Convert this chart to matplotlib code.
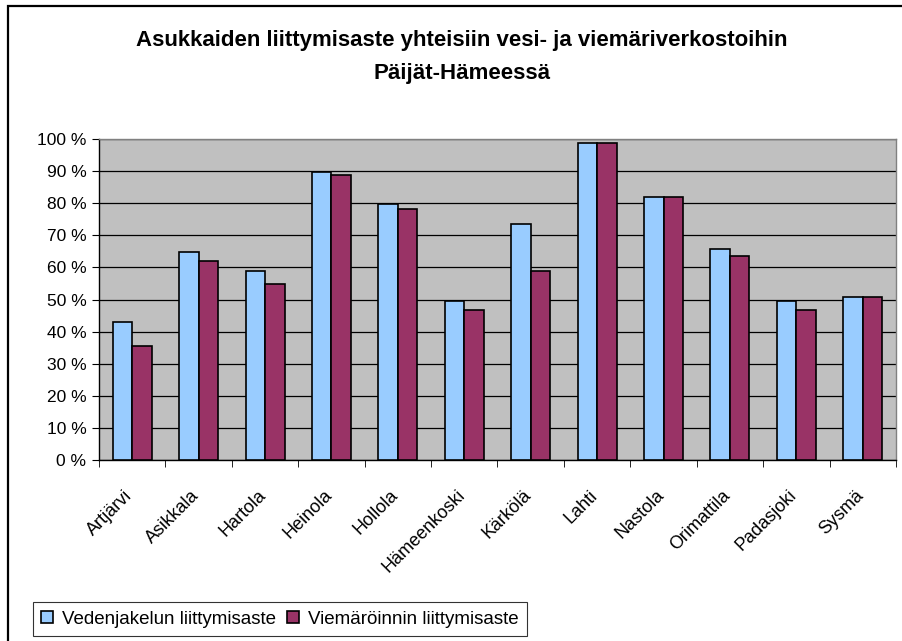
import numpy as np
import matplotlib.pyplot as plt
import matplotlib.transforms as mtransforms
from matplotlib.patches import Rectangle

kunnat = ['Artjärvi', 'Asikkala', 'Hartola', 'Heinola', 'Hollola', 'Hämeenkoski',
          'Kärkölä', 'Lahti', 'Nastola', 'Orimattila', 'Padasjoki', 'Sysmä']
vesi = [42.9, 64.7, 59.0, 89.8, 79.8, 49.5, 73.5, 98.8, 81.9, 65.7, 49.5, 50.7]
viemari = [35.5, 61.9, 54.7, 88.7, 78.1, 46.7, 59.0, 98.8, 81.9, 63.6, 46.7, 50.7]
sarjat = ['Vedenjakelun liittymisaste', 'Viemäröinnin liittymisaste']

plt.rcParams['font.family'] = ['Liberation Sans', 'DejaVu Sans']

W, H = 903, 641
fig = plt.figure(figsize=(W / 100, H / 100), dpi=100)

# outer chart frame (only left and top visible in the original crop)
fig.patches.append(Rectangle((8 / W, -0.1), 1.2, (H - 6) / H + 0.1, transform=fig.transFigure,
                             fill=False, edgecolor='black', linewidth=1.6))

ax = fig.add_axes([99 / W, 1 - 460 / H, (896 - 99) / W, (460 - 139) / H])
ax.set_facecolor('#c0c0c0')

x = np.arange(len(kunnat))
w = 0.294
ax.bar(x - w / 2, vesi, w, color='#99ccff', edgecolor='black', linewidth=1.2,
       label=sarjat[0], zorder=3)
ax.bar(x + w / 2, viemari, w, color='#993366', edgecolor='black', linewidth=1.2,
       label=sarjat[1], zorder=3)

ax.set_xlim(-0.5, len(kunnat) - 0.5)
ax.set_ylim(0, 100)
yt = np.arange(0, 101, 10)
ax.set_yticks(yt)
ax.set_yticklabels([f'{v} %' for v in yt], fontsize=12.5)
ax.yaxis.grid(True, color='black', linewidth=0.9, zorder=1)

ax.set_xticks(x)
ax.set_xticklabels(kunnat, rotation=45, ha='right', rotation_mode='anchor', fontsize=13)
ax.tick_params(axis='x', length=0, pad=10)
shift = mtransforms.ScaledTranslation(-0.08, -0.13, fig.dpi_scale_trans)
for lab in ax.get_xticklabels():
    lab.set_transform(lab.get_transform() + shift)
ax.set_xticks(np.arange(-0.5, len(kunnat)), minor=True)
ax.tick_params(axis='x', which='minor', length=5, direction='out', color='black')
ax.tick_params(axis='y', length=5, direction='out', color='black', pad=4)

for s in ['top', 'right']:
    ax.spines[s].set_color('#808080')
    ax.spines[s].set_linewidth(1)
for s in ['left', 'bottom']:
    ax.spines[s].set_color('black')
    ax.spines[s].set_linewidth(1)

fig.text(462 / W, 1 - 46 / H, 'Asukkaiden liittymisaste yhteisiin vesi- ja viemäriverkostoihin',
         ha='center', va='baseline', fontsize=16, fontweight='bold')
fig.text(462 / W, 1 - 79 / H, 'Päijät-Hämeessä',
         ha='center', va='baseline', fontsize=16, fontweight='bold')

leg = fig.legend(loc='lower left', bbox_to_anchor=(33 / W, 1 - 636 / H), ncol=2,
                 fontsize=13.5, frameon=True, fancybox=False, edgecolor='black',
                 handlelength=0.6, handleheight=0.6, handletextpad=0.5, columnspacing=0.6,
                 borderpad=0.45, borderaxespad=0)
leg.get_frame().set_linewidth(0.8)

fig.savefig('out.png', dpi=100)
